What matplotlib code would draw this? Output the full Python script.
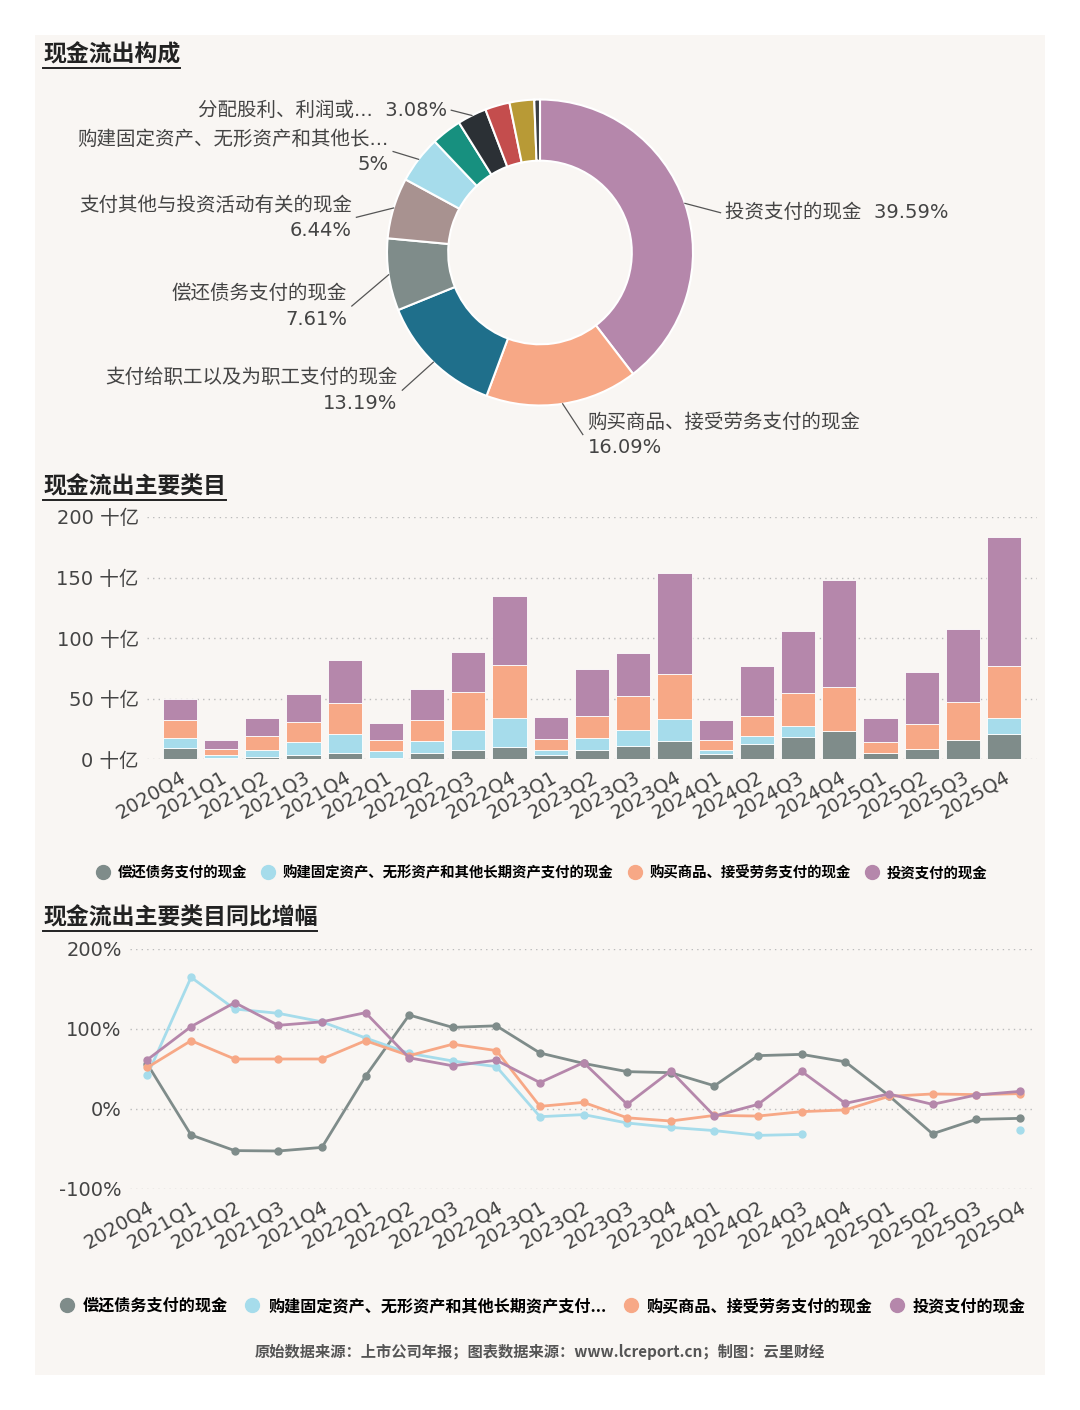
import numpy as np
import matplotlib
matplotlib.use('Agg')
import matplotlib.pyplot as plt
from matplotlib.patches import Rectangle
from matplotlib.lines import Line2D

plt.rcParams['font.family'] = ['DejaVu Sans', 'Noto Sans CJK SC']

# ---- data ----
pie_labels = ['投资支付的现金', '购买商品、接受劳务支付的现金', '支付给职工以及为职工支付的现金',
              '偿还债务支付的现金', '支付其他与投资活动有关的现金', '购建固定资产、无形资产和其他长...',
              '其他1', '分配股利、利润或...', '其他2', '其他3', '其他4']
pie_vals = [39.59, 16.09, 13.19, 7.61, 6.44, 5.0, 3.2, 3.08, 2.6, 2.6, 0.6]
pie_colors = ['#b587ab', '#f7a886', '#1f6f8b', '#7f8c8a', '#a89290', '#a6dceb',
              '#17907f', '#2b3035', '#c44d4d', '#b89a36', '#3a3f44']
pie_texts = {0: '投资支付的现金  39.59%', 1: '购买商品、接受劳务支付的现金\n16.09%',
             2: '支付给职工以及为职工支付的现金\n13.19%', 3: '偿还债务支付的现金\n7.61%',
             4: '支付其他与投资活动有关的现金\n6.44%', 5: '购建固定资产、无形资产和其他长...\n5%',
             7: '分配股利、利润或...  3.08%'}

quarters = ['2020Q4', '2021Q1', '2021Q2', '2021Q3', '2021Q4', '2022Q1', '2022Q2', '2022Q3',
            '2022Q4', '2023Q1', '2023Q2', '2023Q3', '2023Q4', '2024Q1', '2024Q2', '2024Q3',
            '2024Q4', '2025Q1', '2025Q2', '2025Q3', '2025Q4']
debt = [9.4, 1.0, 2.0, 3.3, 5.0, 1.0, 5.0, 7.2, 10.3, 3.3, 7.8, 10.8, 15.0, 3.9, 12.2, 18.3,
        23.3, 5.0, 8.3, 15.3, 20.6]
fixed = [7.6, 2.6, 5.8, 10.6, 15.6, 5.7, 9.7, 16.4, 23.6, 4.5, 9.2, 13.4, 17.8, 3.6, 6.4, 9.2,
         0, 0, 0, 0, 13.3]
goods = [15.5, 4.7, 10.8, 16.9, 25.4, 8.6, 17.3, 31.7, 43.9, 8.6, 18.3, 27.8, 37.5, 7.8, 16.7, 26.7,
         36.4, 9.4, 20.3, 31.4, 43.3]
invest = [17.5, 7.0, 15.0, 22.8, 35.7, 14.4, 25.5, 33.3, 56.9, 18.3, 39.4, 35.5, 83.6, 16.7, 41.7, 51.6,
          88.1, 19.2, 43.1, 60.5, 106.4]

nan = np.nan
g_debt = [56, -32.5, -52, -52.5, -48, 41, 117.5, 102, 104, 70, 57, 46.7, 45.4, 29, 66.7, 68.3,
          59, 16.7, -31, -13, -11.7]
g_fixed = [42.5, 164.6, 125, 119.6, 109, 88.8, 69.6, 60, 53, -9.6, -7, -17.5, -23, -27, -33, -31.7,
           nan, nan, nan, nan, -26.7]
g_goods = [52, 85.4, 62.5, 62.5, 62.5, 85.4, 66.7, 81, 73, 3.3, 8.3, -11, -15, -8, -8.8, -3.3,
           -1.2, 15.8, 18.8, 18, 19.2]
g_invest = [61.7, 103, 133, 104.6, 109, 120.4, 64, 54, 61, 33, 58, 5.8, 47.5, -8.8, 5.8, 47,
            7, 18.8, 5.8, 17.5, 22]

series_names = ['偿还债务支付的现金', '购建固定资产、无形资产和其他长期资产支付的现金',
                '购买商品、接受劳务支付的现金', '投资支付的现金']
series_colors = ['#7f8c8a', '#a6dceb', '#f7a886', '#b587ab']

W, H = 1080, 1410
fig = plt.figure(figsize=(W / 100, H / 100), dpi=100, facecolor='white')
fig.patches.append(Rectangle((35 / W, 1 - 1375 / H), 1010 / W, 1340 / H, transform=fig.transFigure,
                             facecolor='#f9f6f3', edgecolor='none', zorder=-10))
TXT = '#444444'


def px_axes(x0, y0, x1, y1):
    return fig.add_axes([x0 / W, 1 - y1 / H, (x1 - x0) / W, (y1 - y0) / H])


def title(x, y, s):
    t = fig.text(x / W, 1 - y / H, s, fontsize=16.5, fontweight='bold', color='#222222', va='center')
    fig.canvas.draw()
    bb = t.get_window_extent()
    fig.add_artist(Line2D([bb.x0 / W, bb.x1 / W], [(bb.y0 - 1) / H] * 2, color='#222222', lw=1.4))


# ---- pie ----
ax = px_axes(40, 90, 1040, 415)
ax.axis('off')
wedges, _ = ax.pie(pie_vals, colors=pie_colors, startangle=90, counterclock=False,
                   wedgeprops=dict(width=0.4, edgecolor='white', linewidth=1.5))
ax.set_aspect('auto')
ax.set_xlim(-500 / 153, 500 / 153)
ax.set_ylim(-162.5 / 153, 162.5 / 153)
text_pos = {0: (1.21, 0.26, 'left'), 1: (0.31, -1.19, 'left'), 2: (-0.93, -0.9, 'right'),
            3: (-1.26, -0.35, 'right'), 4: (-1.23, 0.23, 'right'), 5: (-0.99, 0.66, 'right'),
            7: (-0.61, 0.93, 'right')}
for i, s in pie_texts.items():
    w = wedges[i]
    a = np.deg2rad((w.theta1 + w.theta2) / 2)
    xy = (1.0 * np.cos(a), 1.0 * np.sin(a))
    tx, ty, ha = text_pos[i]
    lines = s.split('\n')
    ax.text(tx, ty + (0.08 if len(lines) > 1 else 0), lines[0], ha=ha, va='center', fontsize=14,
            color=TXT, clip_on=False)
    if len(lines) > 1:
        ax.text(tx, ty - 0.085, lines[1], ha=ha, va='center', fontsize=14, color=TXT, clip_on=False)
    ex = tx - 0.03 if ha == 'left' else tx + 0.03
    ax.plot([xy[0], ex], [xy[1], ty], color='#555555', lw=0.9, clip_on=False)
title(43, 55, '现金流出构成')

# ---- stacked bars ----
ax = px_axes(147, 517, 1037, 759)
x = np.arange(len(quarters))
bottom = np.zeros(len(quarters))
for vals, c in zip([debt, fixed, goods, invest], series_colors):
    ax.bar(x, vals, 0.83, bottom=bottom, color=c, edgecolor='white', linewidth=0.6)
    bottom += np.array(vals)
ax.set_ylim(0, 200)
ax.set_xlim(-0.8, 20.8)
ax.set_yticks([0, 50, 100, 150, 200])
ax.set_yticklabels([f'{v} 十亿' for v in [0, 50, 100, 150, 200]])
ax.set_xticks(x)
ax.set_xticklabels(quarters, rotation=30, ha='right', rotation_mode='anchor')
ax.grid(axis='y', linestyle=(0, (1, 3)), color='#bbbbbb', lw=1)
ax.set_axisbelow(True)
ax.tick_params(length=0, labelsize=14, colors=TXT, pad=6)
ax.patch.set_alpha(0)
for sp in ax.spines.values():
    sp.set_visible(False)
handles = [Line2D([], [], marker='o', ls='', color=c, markersize=10) for c in series_colors]
fig.legend(handles, series_names, loc='center', bbox_to_anchor=(538 / W, 1 - 873 / H), ncol=4,
           frameon=False, handletextpad=0.0, columnspacing=0.5,
           prop={'family': ['Noto Sans CJK SC'], 'weight': 'bold', 'size': 10.4})
title(43, 487, '现金流出主要类目')

# ---- growth lines ----
ax = px_axes(130, 949, 1035, 1189)
for vals, c in zip([g_debt, g_fixed, g_goods, g_invest], series_colors):
    ax.plot(x, vals, color=c, lw=2, marker='o', markersize=5)
ax.set_ylim(-100, 200)
ax.set_xlim(-0.4, 20.35)
ax.set_yticks([-100, 0, 100, 200])
ax.set_yticklabels(['-100%', '0%', '100%', '200%'])
ax.set_xticks(x)
ax.set_xticklabels(quarters, rotation=30, ha='right', rotation_mode='anchor')
ax.grid(axis='y', linestyle=(0, (1, 3)), color='#bbbbbb', lw=1)
ax.set_axisbelow(True)
ax.tick_params(length=0, labelsize=14, colors=TXT, pad=6)
ax.patch.set_alpha(0)
for sp in ax.spines.values():
    sp.set_visible(False)
names2 = series_names[:]
names2[1] = '购建固定资产、无形资产和其他长期资产支付...'
fig.legend(handles, names2, loc='center', bbox_to_anchor=(538 / W, 1 - 1306 / H), ncol=4,
           frameon=False, handletextpad=0.0, columnspacing=0.5,
           prop={'family': ['Noto Sans CJK SC'], 'weight': 'bold', 'size': 11.6})
title(43, 918, '现金流出主要类目同比增幅')

fig.text(540 / W, 1 - 1352 / H, '原始数据来源：上市公司年报；图表数据来源：www.lcreport.cn；制图：云里财经',
         ha='center', va='center', fontsize=11, fontweight='bold', color='#555555',
         family=['Noto Sans CJK SC'])

fig.savefig('out.png', dpi=100, facecolor='white')
